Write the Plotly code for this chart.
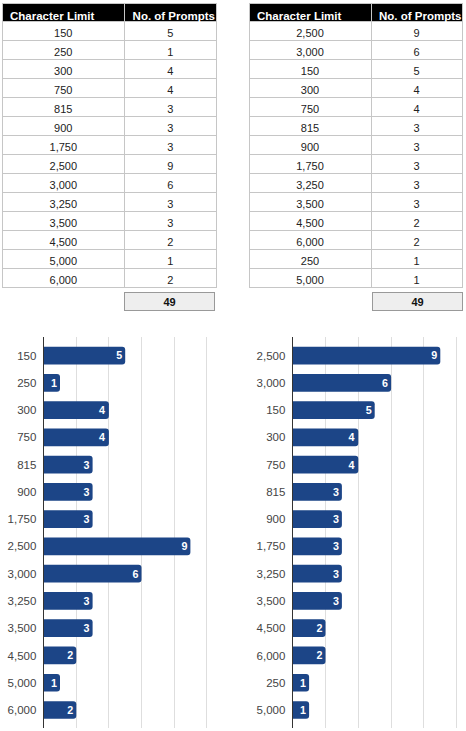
import plotly.graph_objects as go

# ---- data ----
left_limits = ["150", "250", "300", "750", "815", "900", "1,750", "2,500",
               "3,000", "3,250", "3,500", "4,500", "5,000", "6,000"]
left_counts = [5, 1, 4, 4, 3, 3, 3, 9, 6, 3, 3, 2, 1, 2]

right_limits = ["2,500", "3,000", "150", "300", "750", "815", "900", "1,750",
                "3,250", "3,500", "4,500", "6,000", "250", "5,000"]
right_counts = [9, 6, 5, 4, 4, 3, 3, 3, 3, 3, 2, 2, 1, 1]

header_labels = ["Character Limit", "No. of Prompts"]

W, H = 466, 731
FONT = "Liberation Sans, Arial, sans-serif"
BAR = "#1c4587"
LINE = "#c6c6c6"


def px_x(p):
    return p / W


def px_y(p):
    return 1 - p / H


fig = go.Figure()


def add_table(x0, x1, limits, counts):
    fig.add_trace(go.Table(
        domain=dict(x=[px_x(x0), px_x(x1)], y=[px_y(292), px_y(3)]),
        columnwidth=[122, 91],
        header=dict(
            values=[h.replace(" ", "\u00a0") for h in header_labels],
            fill_color="black",
            line=dict(color=LINE, width=1),
            font=dict(family=FONT, size=11.5, color="white", weight="bold"),
            align="left",
            height=18,
        ),
        cells=dict(
            values=[limits, counts],
            fill_color="white",
            line=dict(color=LINE, width=1),
            font=dict(family=FONT, size=11, color="#222222"),
            align="center",
            height=19,
        ),
    ))


add_table(2, 216, left_limits, left_counts)
add_table(249, 463, right_limits, right_counts)

# total boxes
for cx, counts in [((124.3 + 215.3) / 2, left_counts), ((371.7 + 462.3) / 2, right_counts)]:
    fig.add_annotation(
        xref="paper", yref="paper", x=px_x(cx), y=px_y(301.7),
        xanchor="center", yanchor="middle", showarrow=False,
        text=f"<b>{sum(counts)}</b>",
        font=dict(family=FONT, size=11, color="#111111"),
        bgcolor="#eeeeee", bordercolor="#999999", borderwidth=1, borderpad=0,
        width=89, height=17,
    )

# bar charts
for lim, cnt, xa, ya in [(left_limits, left_counts, "x", "y"),
                         (right_limits, right_counts, "x2", "y2")]:
    fig.add_trace(go.Bar(
        x=cnt, y=lim, orientation="h",
        marker=dict(color=BAR, line=dict(width=0)),
        text=cnt, textposition="inside", insidetextanchor="end", textangle=0,
        textfont=dict(family=FONT, size=11, color="white", weight="bold"),
        xaxis=xa, yaxis=ya, showlegend=False, hoverinfo="skip",
    ))

ydom = [px_y(728), px_y(337)]
xcommon = dict(range=[0, 10.2], dtick=2, tick0=0, showticklabels=False,
               showgrid=True, gridcolor="#dedede", gridwidth=1,
               zeroline=False, showline=False, ticks="", fixedrange=True)
ycommon = dict(type="category", range=[13.66, -0.68], showgrid=False,
               showline=True, linecolor="#333333", linewidth=1, ticks="",
               ticklabelstandoff=4,
               tickfont=dict(family=FONT, size=11.5, color="#444444"),
               zeroline=False, fixedrange=True)

fig.update_layout(
    width=W, height=H,
    margin=dict(l=0, r=0, t=0, b=0),
    paper_bgcolor="white", plot_bgcolor="white",
    barmode="group", bargap=0.35, barcornerradius=3,
    uniformtext=dict(mode="show", minsize=8),
    xaxis=dict(domain=[px_x(43.7), px_x(43.7 + 16.3 * 10.2)], anchor="y", **xcommon),
    yaxis=dict(domain=ydom, anchor="x", **ycommon),
    xaxis2=dict(domain=[px_x(292.7), px_x(292.7 + 16.4 * 10.2)], anchor="y2", **xcommon),
    yaxis2=dict(domain=ydom, anchor="x2", **ycommon),
)

fig.write_html("out.html",
               config={"displayModeBar": False, "staticPlot": False},
               post_script="document.body.style.margin='0';document.body.style.overflow='hidden';")
